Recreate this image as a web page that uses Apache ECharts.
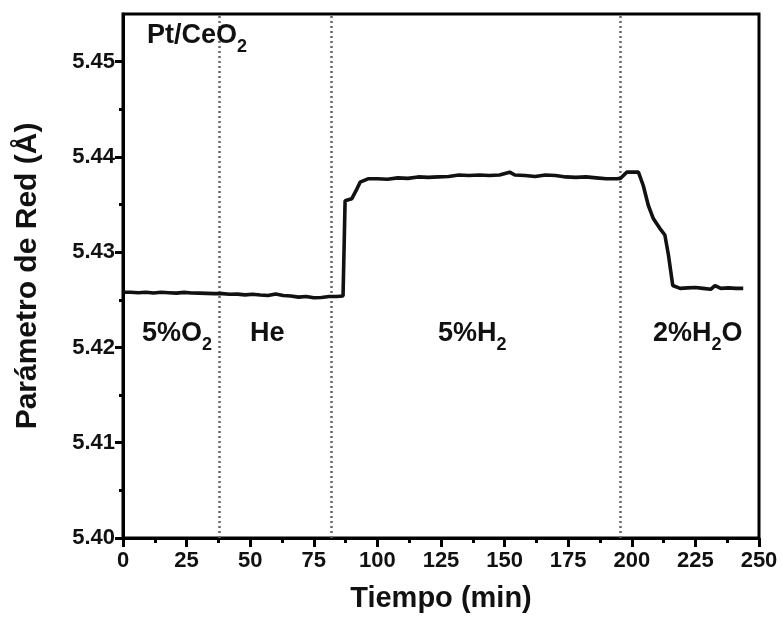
<!DOCTYPE html>
<html><head><meta charset="utf-8">
<script src="https://cdn.jsdelivr.net/npm/echarts@6/dist/echarts.min.js"></script>
<style>html,body{margin:0;padding:0;background:#fff}#c{width:782px;height:618px}</style>
</head><body><div id="c"></div>
<script>
const timeMin = [0,3,6,9,12,15,18,21,24,27,30,33,36,39,42,45,48,51,54,57,60,63,66,69,72,75,78,81,84,86.5,87.3,89.9,91.5,93.2,96.3,100,104,108,112,116,120,124,128,132,136,140,144,148,152,154,158,162,166,170,174,178,182,186,190,194,195.6,198,202.6,204.5,206.5,208.5,211,213,214.4,216.1,219,222,225,228,231,232.7,235,238,241,243.8];
const latticeA = [5.4258,5.4258,5.42575,5.4258,5.42572,5.4258,5.42575,5.4257,5.42578,5.42572,5.4257,5.42568,5.42565,5.42565,5.42558,5.4256,5.42552,5.42558,5.4255,5.42545,5.4256,5.42545,5.4254,5.42528,5.42535,5.42522,5.42525,5.42535,5.42535,5.4254,5.4354,5.4356,5.4364,5.43735,5.4377,5.4377,5.43765,5.4378,5.43775,5.4379,5.43785,5.4379,5.43795,5.4381,5.43805,5.4381,5.43805,5.4381,5.4384,5.4381,5.43805,5.43795,5.4381,5.43805,5.4379,5.43785,5.4379,5.4378,5.4377,5.4377,5.43775,5.4384,5.4384,5.4370,5.4349,5.4335,5.4325,5.4318,5.4297,5.4265,5.4262,5.42625,5.4263,5.4262,5.4261,5.4265,5.4262,5.42625,5.4262,5.4262];
const phaseBoundaries = [37.7, 82, 195.6];
const yMajorTicks = [5.40, 5.41, 5.42, 5.43, 5.44, 5.45];
const yMinorTicks = [5.405, 5.415, 5.425, 5.435, 5.445];
const xTickStep = 25;

const FONT = '"Liberation Sans", Arial, sans-serif';
const chart = echarts.init(document.getElementById('c'), null, {renderer: 'canvas'});
const data = timeMin.map((t, i) => [t, latticeA[i]]);

function ann(x, y, main, sub, tail) {
  let txt = '{a|' + main + '}';
  if (sub) txt += '{s|' + sub + '}';
  if (tail) txt += '{a|' + tail + '}';
  return {
    type: 'text', x: x, y: y, z: 100,
    style: {
      text: txt, verticalAlign: 'middle', align: 'left', fill: '#111',
      rich: {
        a: {fontFamily: FONT, fontWeight: 'bold', fontSize: 27, fill: '#111'},
        s: {fontFamily: FONT, fontWeight: 'bold', fontSize: 18, fill: '#111', padding: [22, 0, 0, 0]}
      }
    }
  };
}

chart.setOption({
  animation: false,
  backgroundColor: '#fff',
  grid: {left: 123, right: 23, top: 14, bottom: 78, show: true, borderColor: '#000', borderWidth: 3, backgroundColor: 'transparent'},
  xAxis: {
    type: 'value', min: 0, max: 250, interval: xTickStep,
    name: 'Tiempo (min)', nameLocation: 'middle', nameGap: 46,
    nameTextStyle: {fontFamily: FONT, fontWeight: 'bold', fontSize: 29, color: '#111'},
    axisLine: {show: true, onZero: false, lineStyle: {color: '#000', width: 3}},
    axisTick: {show: true, inside: false, length: 9, lineStyle: {color: '#000', width: 3}},
    minorTick: {show: true, splitNumber: 2, length: 5, lineStyle: {color: '#000', width: 3}},
    splitLine: {show: false}, minorSplitLine: {show: false},
    axisLabel: {margin: 12, fontFamily: FONT, fontWeight: 'bold', fontSize: 22, color: '#111'}
  },
  yAxis: [{
    type: 'value', min: 5.40, max: 5.455,
    name: 'Parámetro de Red (Å)', nameLocation: 'middle', nameGap: 80,
    nameTextStyle: {fontFamily: FONT, fontWeight: 'bold', fontSize: 30, color: '#111'},
    axisLine: {show: true, onZero: false, lineStyle: {color: '#000', width: 3}},
    axisTick: {show: true, inside: false, length: 8, customValues: yMajorTicks, lineStyle: {color: '#000', width: 3}},
    splitLine: {show: false},
    axisLabel: {margin: 8, customValues: yMajorTicks, fontFamily: FONT, fontWeight: 'bold', fontSize: 22, color: '#111',
      formatter: v => v.toFixed(2)}
  }, {
    type: 'value', min: 5.40, max: 5.455, position: 'left', offset: 0,
    axisLine: {show: false},
    axisTick: {show: true, inside: false, length: 4, customValues: yMinorTicks, lineStyle: {color: '#000', width: 3}},
    axisLabel: {show: false}, splitLine: {show: false}
  }],
  series: [{
    type: 'line', data: data, showSymbol: false, symbol: 'none', smooth: false,
    lineStyle: {color: '#111', width: 3.6}, z: 10,
    markLine: {
      silent: true, symbol: 'none', animation: false,
      label: {show: false},
      lineStyle: {color: '#666', width: 2.5, type: [2, 3]},
      data: phaseBoundaries.map(v => ({xAxis: v}))
    }
  }],
  graphic: [
    ann(147, 36, 'Pt/CeO', '2'),
    ann(142, 334, '5%O', '2'),
    ann(250, 334, 'He'),
    ann(438, 334, '5%H', '2'),
    ann(653, 334, '2%H', '2', 'O')
  ]
});
</script></body></html>
